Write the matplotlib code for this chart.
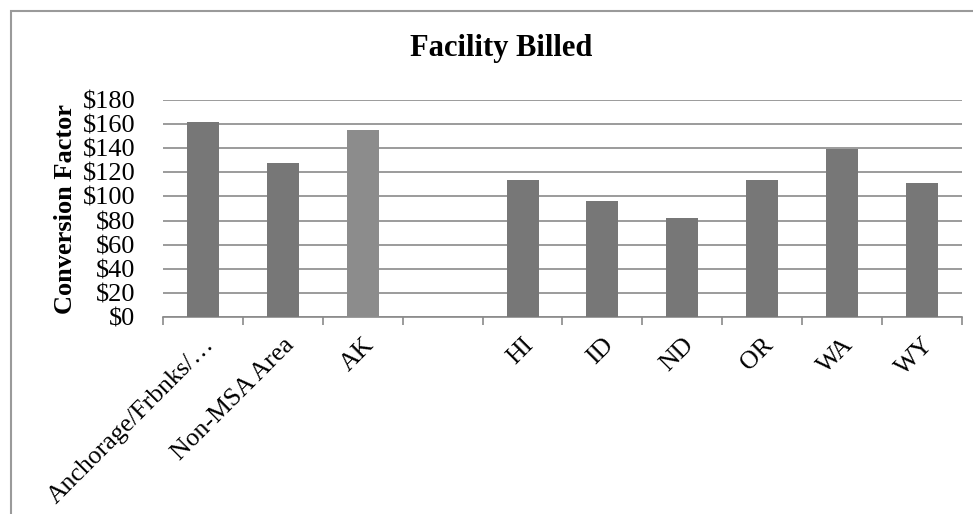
import matplotlib.pyplot as plt
import numpy as np
from matplotlib.patches import Rectangle
from matplotlib.ticker import FuncFormatter, MultipleLocator

# conversion factor per area, facility billed
areas = ["Anchorage/Frbnks/…", "Non-MSA Area", "AK", "", "HI", "ID", "ND", "OR", "WA", "WY"]
factors = [162, 128, 155, 0, 114, 96, 82, 114, 139, 111]
bar_colors = ["#777777", "#777777", "#8c8c8c", "#777777", "#777777",
              "#777777", "#777777", "#777777", "#777777", "#777777"]

plt.rcParams['font.family'] = ['Liberation Serif', 'DejaVu Serif']

fig = plt.figure(figsize=(9.73, 5.14), dpi=100)
ax = fig.add_axes([0.1675, 0.3833, 0.8212, 0.4221])

x = np.arange(len(areas))
ax.bar(x, factors, width=0.4, color=bar_colors, zorder=3)

ax.set_xlim(-0.5, len(areas) - 0.5)
ax.set_ylim(0, 180)
ax.yaxis.set_major_locator(MultipleLocator(20))
ax.yaxis.set_major_formatter(FuncFormatter(lambda v, p: f"${v:.0f}"))
ax.grid(axis='y', color='#8a8a8a', linewidth=1.2, zorder=0)

# category labels sit between boundary ticks, like a spreadsheet chart
ax.set_xticks(x)
ax.set_xticklabels(areas, rotation=45, ha='right', rotation_mode='anchor', fontsize=18.5)
ax.tick_params(axis='x', which='major', length=0, pad=12)
ax.set_xticks(np.arange(-0.5, len(areas)), minor=True)
ax.tick_params(axis='x', which='minor', length=6, width=1.2, color='#8a8a8a')
ax.tick_params(axis='y', length=0, pad=20, labelsize=19)

for side in ['top', 'right', 'left']:
    ax.spines[side].set_visible(False)
ax.spines['bottom'].set_color('#8a8a8a')
ax.spines['bottom'].set_linewidth(1.2)

ax.set_ylabel("Conversion Factor", fontsize=19, fontweight='bold', labelpad=4)
fig.text(0.515, 0.905, "Facility Billed", ha='center', va='center', fontsize=22, fontweight='bold')

# chart frame
fig.patches.append(Rectangle((11 / 973, -0.1), 1.2, 1 - 11 / 514 + 0.1, transform=fig.transFigure,
                             fill=False, edgecolor='#9a9a9a', linewidth=1.5))

fig.savefig("out.png", dpi=100)
